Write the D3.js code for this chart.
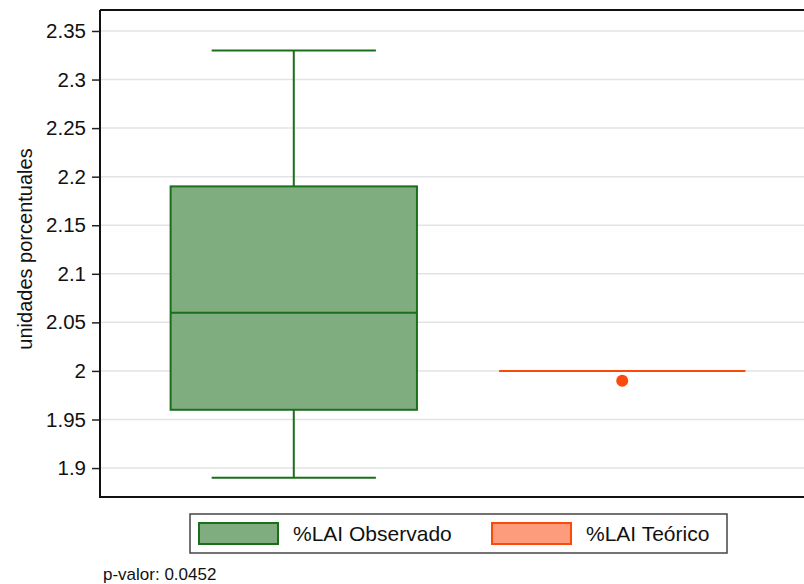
<!DOCTYPE html>
<html>
<head>
<meta charset="utf-8">
<script src="https://cdn.jsdelivr.net/npm/d3@7"></script>
<style>
  body { margin: 0; background: #fff; }
  svg { display: block; font-family: Arial, "Liberation Sans", sans-serif; }
</style>
</head>
<body>
<svg id="chart" width="804" height="584"></svg>
<script>
// Groups shown on the x axis
const categories = ["%LAI Observado", "%LAI Teórico"];
// Five-number summary of the observed series
const observedSummary = { min: 1.89, q1: 1.96, median: 2.06, q3: 2.19, max: 2.33 };
// Theoretical reference value and its point estimate
const theoreticalLine = 2.00;
const theoreticalPoint = 1.99;
// Y axis ticks
const yTicks = [1.9, 1.95, 2, 2.05, 2.1, 2.15, 2.2, 2.25, 2.3, 2.35];
const yTickLabels = ["1.9", "1.95", "2", "2.05", "2.1", "2.15", "2.2", "2.25", "2.3", "2.35"];
const pValueText = "p-valor: 0.0452";

const colors = {
  obsFill: "#80ad80", obsStroke: "#1b6e1b",
  teoLine: "#fc4a0a", teoFill: "#fc9c7c"
};

const svg = d3.select("#chart");
const plot = { left: 100, top: 10, right: 816, bottom: 497 };

const y = d3.scaleLinear().domain([1.8702, 2.3716]).range([plot.bottom, plot.top]);
const x = d3.scaleBand().domain(categories).range([plot.left, plot.right]).paddingInner(0.25).paddingOuter(0.215);

// Gridlines
svg.append("g").selectAll("line").data(yTicks).join("line")
  .attr("x1", plot.left).attr("x2", plot.right)
  .attr("y1", d => y(d)).attr("y2", d => y(d))
  .attr("stroke", "#e3e3e3").attr("stroke-width", 1.5);

// Y axis
const yAxis = d3.axisLeft(y).tickValues(yTicks).tickFormat((d, i) => yTickLabels[i]).tickSize(8).tickPadding(6);
const gy = svg.append("g").attr("transform", `translate(${plot.left},0)`).call(yAxis);
gy.select(".domain").remove();
gy.selectAll(".tick line").attr("stroke", "#222").attr("stroke-width", 1.5);
gy.selectAll(".tick text").attr("fill", "#111").attr("font-size", 20.5).attr("font-family", "Arial, 'Liberation Sans', sans-serif");

// Frame (left, top, bottom)
svg.append("line").attr("x1", plot.left).attr("x2", plot.left).attr("y1", plot.top).attr("y2", plot.bottom)
  .attr("stroke", "#111").attr("stroke-width", 2);
svg.append("line").attr("x1", plot.left).attr("x2", plot.right).attr("y1", plot.top).attr("y2", plot.top)
  .attr("stroke", "#111").attr("stroke-width", 2);
svg.append("line").attr("x1", plot.left - 1).attr("x2", plot.right).attr("y1", plot.bottom).attr("y2", plot.bottom)
  .attr("stroke", "#111").attr("stroke-width", 2);

// Observed box plot
const bx = x(categories[0]);
const bw = x.bandwidth();
const cx = bx + bw / 2;
const capHalf = bw / 3;
const g1 = svg.append("g");
g1.append("line").attr("x1", cx).attr("x2", cx).attr("y1", y(observedSummary.max)).attr("y2", y(observedSummary.q3))
  .attr("stroke", colors.obsStroke).attr("stroke-width", 2);
g1.append("line").attr("x1", cx).attr("x2", cx).attr("y1", y(observedSummary.q1)).attr("y2", y(observedSummary.min))
  .attr("stroke", colors.obsStroke).attr("stroke-width", 2);
[observedSummary.max, observedSummary.min].forEach(v => {
  g1.append("line").attr("x1", cx - capHalf).attr("x2", cx + capHalf).attr("y1", y(v)).attr("y2", y(v))
    .attr("stroke", colors.obsStroke).attr("stroke-width", 2);
});
g1.append("rect").attr("x", bx).attr("width", bw)
  .attr("y", y(observedSummary.q3)).attr("height", y(observedSummary.q1) - y(observedSummary.q3))
  .attr("fill", colors.obsFill).attr("stroke", colors.obsStroke).attr("stroke-width", 2);
g1.append("line").attr("x1", bx).attr("x2", bx + bw).attr("y1", y(observedSummary.median)).attr("y2", y(observedSummary.median))
  .attr("stroke", colors.obsStroke).attr("stroke-width", 2);

// Theoretical reference
const tx = x(categories[1]);
svg.append("line").attr("x1", tx).attr("x2", tx + bw).attr("y1", y(theoreticalLine)).attr("y2", y(theoreticalLine))
  .attr("stroke", colors.teoLine).attr("stroke-width", 2);
svg.append("circle").attr("cx", tx + bw / 2).attr("cy", y(theoreticalPoint)).attr("r", 6)
  .attr("fill", colors.teoLine);

// Y axis title
svg.append("text").attr("transform", "translate(32,249) rotate(-90)")
  .attr("text-anchor", "middle").attr("font-size", 20).attr("fill", "#111")
  .text("unidades porcentuales");

// Legend
const leg = svg.append("g");
leg.append("rect").attr("x", 190).attr("y", 514).attr("width", 537).attr("height", 39)
  .attr("fill", "#fff").attr("stroke", "#444").attr("stroke-width", 1.5);
const legendItems = [
  { label: categories[0], fill: colors.obsFill, stroke: colors.obsStroke, x: 199 },
  { label: categories[1], fill: colors.teoFill, stroke: colors.teoLine, x: 492 }
];
legendItems.forEach(it => {
  leg.append("rect").attr("x", it.x).attr("y", 523).attr("width", 79).attr("height", 21)
    .attr("fill", it.fill).attr("stroke", it.stroke).attr("stroke-width", 2);
  leg.append("text").attr("x", it.x + 94).attr("y", 541).attr("font-size", 21).attr("fill", "#111").text(it.label);
});

// Test p-value note
svg.append("text").attr("x", 103).attr("y", 580).attr("font-size", 17).attr("fill", "#111").text(pValueText);
</script>
</body>
</html>
